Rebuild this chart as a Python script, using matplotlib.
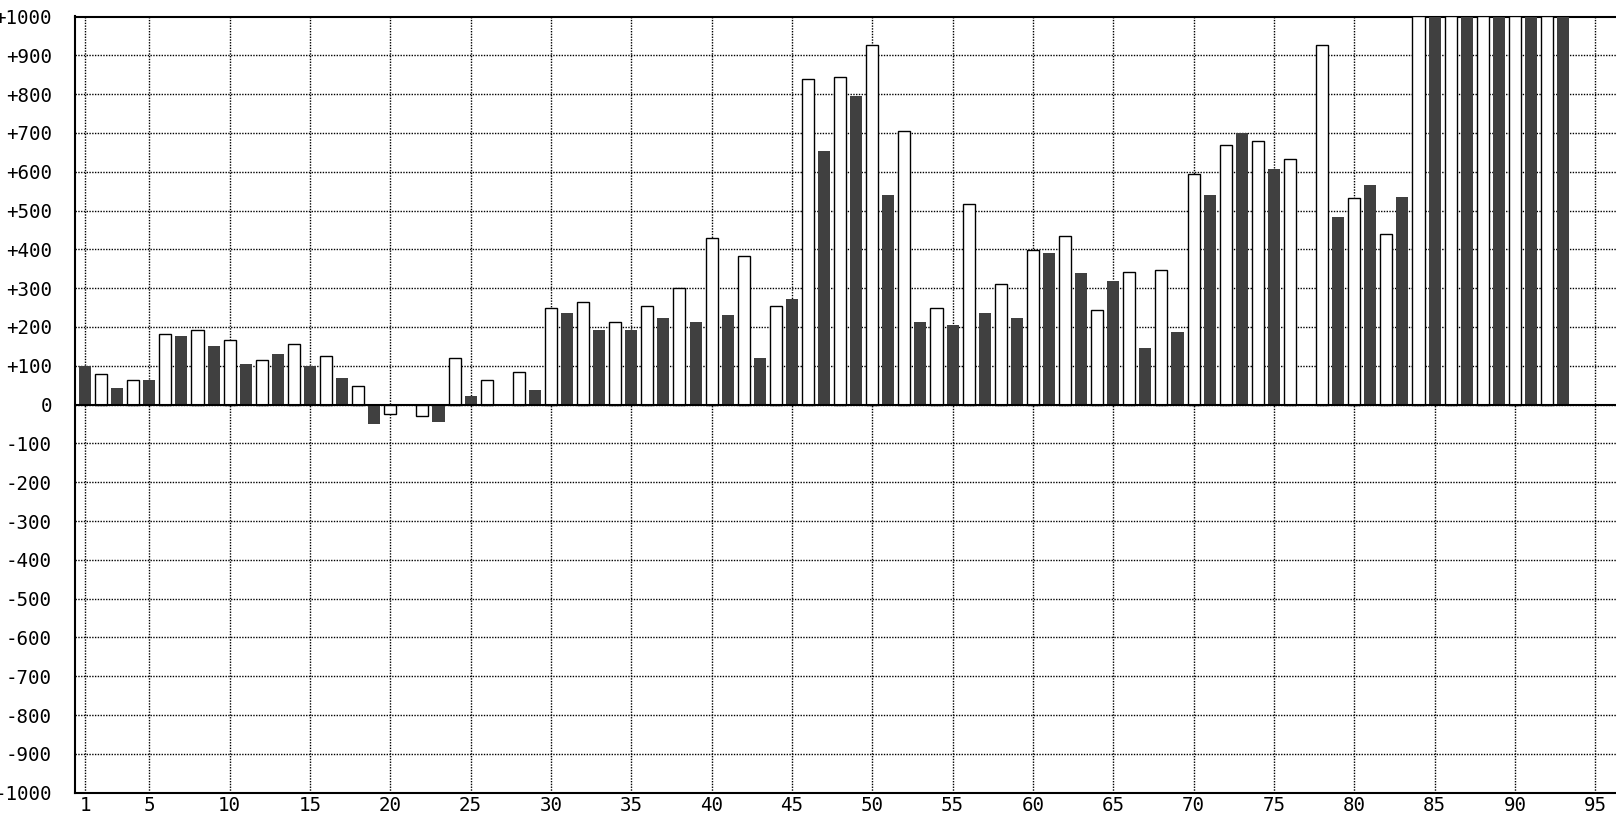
import matplotlib
matplotlib.use("Agg")
import matplotlib.pyplot as plt

# odd positions (dark bars) and even positions (white bars)
dark_pos = list(range(1, 94, 2))
dark_vals = [100, 43, 64, 178, 152, 105, 131, 100, 69, -50,
             -3, -45, 22, 0, 38, 235, 193, 193, 224, 214,
             230, 121, 271, 654, 794, 540, 214, 204, 235, 224,
             390, 338, 318, 147, 188, 540, 701, 607, 2, 483,
             566, 535, 1000, 1000, 1000, 1000, 1000]
white_pos = list(range(2, 93, 2))
white_vals = [78, 63, 182, 193, 167, 115, 156, 125, 47, -25,
              -30, 119, 63, 83, 248, 264, 212, 254, 300, 430,
              383, 254, 839, 844, 927, 704, 248, 518, 311, 399,
              435, 243, 342, 347, 595, 668, 678, 632, 927, 533,
              440, 1000, 1000, 1000, 1000, 1000]
xticks = [1] + list(range(5, 96, 5))
yticks = list(range(-1000, 1001, 100))
ylabels = ['+%d' % v if v > 0 else str(v) for v in yticks]

fig = plt.figure(figsize=(16.16, 8.14), dpi=100)
ax = fig.add_axes([75/1616, 21.3/814, 1 - 75/1616 + 0.01, (792.7 - 16.5)/814])

ax.bar(dark_pos, dark_vals, width=0.75, color='#404040', linewidth=0, zorder=3)
ax.bar(white_pos, white_vals, width=0.75, color='white', edgecolor='black', linewidth=1.0, zorder=3)
ax.axhline(0, color='black', lw=1.5, zorder=4)

ax.set_xlim(0.375, 97.3)
ax.set_ylim(-1000, 1000)
ax.set_xticks(xticks)
ax.set_xticklabels([str(t) for t in xticks])
ax.set_yticks(yticks)
ax.set_yticklabels(ylabels)
ax.tick_params(length=0, labelsize=13.8, labelfontfamily='DejaVu Sans Mono')
ax.tick_params(axis='y', pad=16.5)
ax.tick_params(axis='x', pad=2.5)

ax.grid(True, color='black', linestyle=(0, (1, 1)), linewidth=1.0, zorder=0)
ax.set_axisbelow(True)
for s in ['left', 'top', 'bottom']:
    ax.spines[s].set_linewidth(1.5)
ax.spines['right'].set_visible(False)

fig.savefig('out.png', dpi=100)
